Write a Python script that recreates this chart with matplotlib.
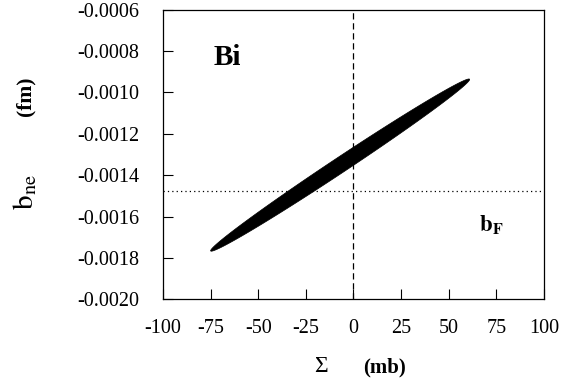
import numpy as np
import matplotlib
matplotlib.use('Agg')
from matplotlib import pyplot as plt
from matplotlib.ticker import FormatStrFormatter

plt.rcParams['font.family'] = ['Liberation Serif', 'DejaVu Serif']
plt.rcParams['axes.unicode_minus'] = False
plt.rcParams['mathtext.fontset'] = 'stix'

# data
x_ticks = [-100, -75, -50, -25, 0, 25, 50, 75, 100]
y_ticks = [-0.0020, -0.0018, -0.0016, -0.0014, -0.0012, -0.0010, -0.0008, -0.0006]
# confidence ellipse: lower-left tip, upper-right tip, vertical half thickness at centre
tip_lo = (-75.0, -0.001765)
tip_hi = (61.0, -0.000937)
half_thick = 0.000044
b_F = -0.001474   # horizontal reference line
sigma_ref = 0.0   # vertical reference line

fig = plt.figure(figsize=(5.66, 3.81), dpi=100)
ax = fig.add_axes([0.288, 0.2144, 0.673, 0.760])

# ellipse from its two tips and thickness
cx = (tip_lo[0] + tip_hi[0]) / 2
cy = (tip_lo[1] + tip_hi[1]) / 2
dx = (tip_hi[0] - tip_lo[0]) / 2
dy = (tip_hi[1] - tip_lo[1]) / 2
t = np.linspace(0, 2 * np.pi, 400)
ax.fill(cx + dx * np.cos(t), cy + dy * np.cos(t) + half_thick * np.sin(t),
        color='black', lw=0.5, zorder=3)

ax.axvline(sigma_ref, color='black', lw=0.9, ls=(0, (5, 3)), zorder=2)
ax.axhline(b_F, color='black', lw=0.9, ls=(0, (1, 2.5)), zorder=2)

ax.set_xlim(-100, 100)
ax.set_ylim(-0.0020, -0.0006)
ax.set_xticks(x_ticks)
ax.set_yticks(y_ticks)
ax.yaxis.set_major_formatter(FormatStrFormatter('%.4f'))
ax.tick_params(direction='in', length=7, width=0.8, labelsize=14.5,
               top=False, right=False)
ax.tick_params(axis='y', pad=17)
ax.tick_params(axis='x', pad=14)
for s in ax.spines.values():
    s.set_linewidth(0.9)

ax.text(-66.5, -0.00083, 'Bi', fontsize=21, fontweight='bold',
        ha='center', va='center')
ax.text(66, -0.00164, r'$\mathbf{b_F}$', fontsize=16.5, ha='left', va='center')

# axis titles, placed by hand as in the original
fig.text(321 / 566, 1 - 372 / 381, 'Σ', fontsize=17, ha='center', va='baseline')
fig.text(385 / 566, 1 - 372 / 381, '(mb)', fontsize=15, fontweight='bold',
         ha='center', va='baseline')
fig.text(25 / 566, 1 - 192 / 381, r'$\mathrm{b_{ne}}$', fontsize=21,
         rotation=90, ha='center', va='center')
fig.text(25 / 566, 1 - 96 / 381, '(fm)', fontsize=15.5, fontweight='bold',
         rotation=90, ha='center', va='center')

fig.savefig('out.png', dpi=100)
